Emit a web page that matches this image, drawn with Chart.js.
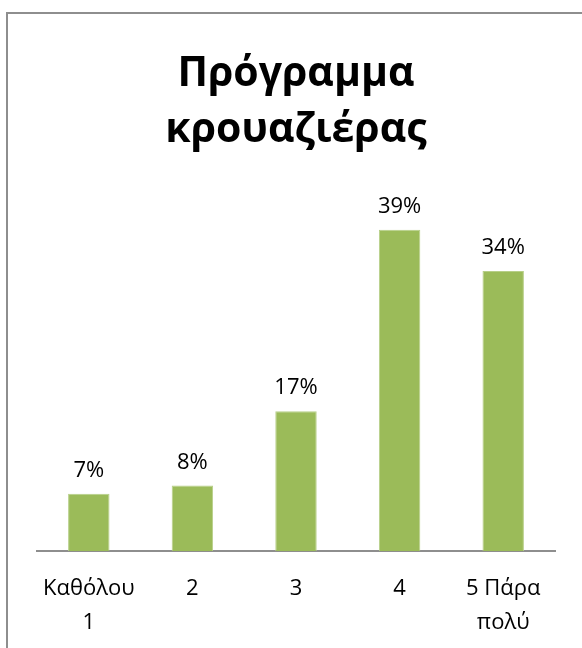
<!DOCTYPE html>
<html lang="el">
<head>
<meta charset="utf-8">
<title>Πρόγραμμα κρουαζιέρας</title>
<script src="https://cdn.jsdelivr.net/npm/chart.js@4.4.1/dist/chart.umd.min.js"></script>
<style>
  html, body { margin: 0; padding: 0; background: #fff; overflow: hidden; }
  #wrap { position: relative; width: 582px; height: 648px; overflow: hidden; }
  #frame {
    position: absolute; left: 6px; top: 12px; width: 620px; height: 680px;
    border: 2px solid #8e8e8e; box-sizing: border-box; pointer-events: none;
  }
  canvas { position: absolute; left: 0; top: 0; }
</style>
</head>
<body>
<div id="wrap">
  <!-- a little taller than the frame so the axis labels sit low enough -->
  <canvas id="chart" width="582" height="668"></canvas>
  <div id="frame"></div>
</div>
<script>
  const TITLE = ['Πρόγραμμα', 'κρουαζιέρας'];
  const categories = [['Καθόλου', '1'], '2', '3', '4', ['5 Πάρα', 'πολύ']];
  const percents = [7, 8, 17, 39, 34];

  const FONT = "'Open Sans', 'Noto Sans', sans-serif";

  // writes the percentage above every bar
  const valueLabels = {
    id: 'valueLabels',
    afterDatasetsDraw(chart) {
      const { ctx } = chart;
      const meta = chart.getDatasetMeta(0);
      ctx.save();
      ctx.font = `22px ${FONT}`;
      ctx.fillStyle = '#000';
      ctx.textAlign = 'center';
      ctx.textBaseline = 'bottom';
      meta.data.forEach((bar, i) => {
        ctx.fillText(percents[i] + '%', bar.x, bar.y - 12);
      });
      ctx.restore();
    }
  };

  new Chart(document.getElementById('chart'), {
    type: 'bar',
    data: {
      labels: categories,
      datasets: [{
        data: percents,
        backgroundColor: '#9bbb59',
        borderColor: '#b7cf88',
        borderWidth: 1,
        barPercentage: 0.4,
        categoryPercentage: 1.0
      }]
    },
    options: {
      responsive: false,
      animation: false,
      layout: { padding: { left: 37, right: 27, top: 0, bottom: 8 } },
      plugins: {
        legend: { display: false },
        tooltip: { enabled: false },
        title: {
          display: true,
          text: TITLE,
          color: '#000',
          font: { family: FONT, size: 41, weight: 'bold', lineHeight: 1.37 },
          padding: { top: 46, bottom: 22 }
        }
      },
      scales: {
        x: {
          grid: { display: false, drawTicks: false },
          border: { display: true, color: '#8e8e8e', width: 2 },
          ticks: {
            color: '#000',
            font: { family: FONT, size: 22, lineHeight: 1.56 },
            padding: 20,
            maxRotation: 0
          }
        },
        y: {
          display: false,
          min: 0,
          max: 45
        }
      }
    },
    plugins: [valueLabels]
  });
</script>
</body>
</html>
